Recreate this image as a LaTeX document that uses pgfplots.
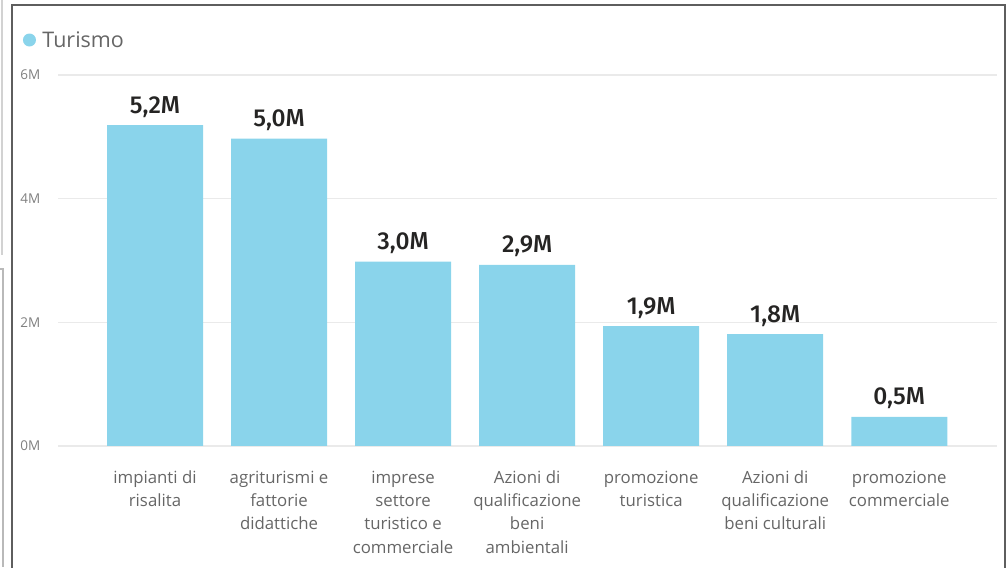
\documentclass[border=0pt]{standalone}
\usepackage{fontspec}
\setmainfont{Open Sans}
\newfontfamily\labelfont{Fira Sans Medium}
\usepackage{pgfplots}
\pgfplotsset{compat=1.18}
\definecolor{barc}{HTML}{8AD4EB}
\definecolor{gridc}{HTML}{EAEAEA}
\definecolor{tickc}{HTML}{808080}
\definecolor{catc}{HTML}{666666}
\definecolor{framec}{HTML}{5E5E5E}
\definecolor{valc}{HTML}{252423}
\begin{document}
\begin{tikzpicture}
\path[use as bounding box] (0pt,0pt) rectangle (1008pt,567pt);
\draw[gray!35, line width=1.5pt] (2pt,567pt) -- (2pt,312pt);
\draw[gray!55, line width=1.5pt] (0pt,298pt) -- (3pt,298pt) -- (3pt,0pt);
\draw[framec, line width=2pt] (11.5pt,-5pt) -- (11.5pt,561.5pt) -- (1004.5pt,561.5pt) -- (1004.5pt,-5pt);
\begin{axis}[
  at={(155pt,121pt)}, anchor=origin,
  scale only axis, width=939pt, height=371pt,
  xmin=-0.78, xmax=6.79, ymin=0, ymax=6,
  ybar, bar width=96pt,
  axis line style={draw=none},
  major tick length=0pt,
  ytick={0,2,4,6}, yticklabels={0M,2M,4M,6M},
  yticklabel style={anchor=west, inner sep=0pt, xshift=-38pt, font=\fontsize{13.5}{14}\selectfont, text=tickc},
  xtick={0,1,2,3,4,5,6},
  xticklabels={{\strut impianti di\\risalita},{\strut agriturismi e\\fattorie\\didattiche},{\strut imprese\\settore\\turistico e\\commerciale},{\strut Azioni di\\qualificazione\\beni\\ambientali},{\strut promozione\\turistica},{\strut Azioni di\\qualificazione\\beni culturali},{\strut promozione\\commerciale}},
  xticklabel style={anchor=north, align=center, inner sep=0pt, yshift=-20.5pt, font=\fontsize{16.8}{23.4}\selectfont, text=catc},
  ymajorgrids, grid style={gridc, line width=1.2pt},
  legend style={draw=none, fill=none, at={(axis description cs:-0.0378,1.0943)}, anchor=west, inner sep=0pt, font=\fontsize{21.5}{21.5}\selectfont, text=catc, nodes={inner sep=0pt}, /tikz/every odd column/.append style={column sep=6.5pt}},
  legend image code/.code={\fill[barc] (0pt,0pt) circle (6.5pt);},
]
\addplot[fill=barc, draw=none, nodes near coords, point meta=explicit symbolic,
  nodes near coords style={font=\labelfont\fontsize{24.5}{24.5}\selectfont, text=valc, anchor=base, yshift=12pt, inner sep=0pt}]
coordinates {(0,5.19) [5,2M] (1,4.97) [5,0M] (2,2.98) [3,0M] (3,2.93) [2,9M] (4,1.94) [1,9M] (5,1.81) [1,8M] (6,0.47) [0,5M]};
\addlegendentry{Turismo}
\end{axis}
\end{tikzpicture}
\end{document}
